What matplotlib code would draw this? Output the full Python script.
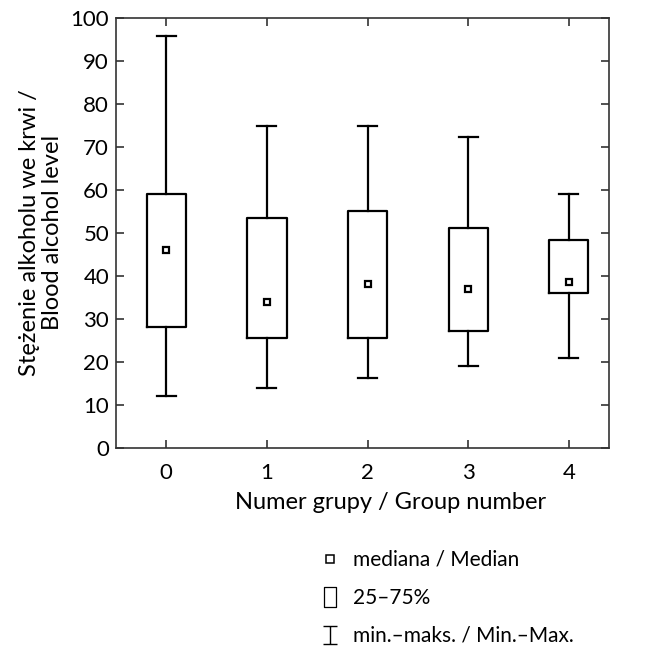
import matplotlib
matplotlib.use("Agg")
import matplotlib.pyplot as plt
from matplotlib.path import Path
from matplotlib.lines import Line2D

groups = [0, 1, 2, 3, 4]
mins = [12.1, 14.0, 16.3, 19.0, 21.0]
q1 = [28.1, 25.5, 25.5, 27.2, 36.0]
medians = [45.9, 34.0, 38.1, 37.0, 38.5]
q3 = [59.0, 53.4, 55.1, 51.0, 48.4]
maxs = [95.7, 74.8, 74.8, 72.3, 58.9]

plt.rcParams['font.family'] = ['Lato', 'DejaVu Sans']

fig = plt.figure(figsize=(6.51, 6.47), dpi=100)
ax = fig.add_axes([116/651, 1-448/647, (609-116)/651, (448-17.5)/647])

stats = []
for i in range(len(groups)):
    stats.append(dict(med=medians[i], q1=q1[i], q3=q3[i], whislo=mins[i], whishi=maxs[i], fliers=[]))

lw = 1.6
ax.bxp(stats, positions=groups, widths=0.39, showfliers=False,
       boxprops=dict(color='black', linewidth=lw),
       whiskerprops=dict(color='black', linewidth=lw),
       capprops=dict(color='black', linewidth=lw),
       medianprops=dict(linewidth=0), capwidths=0.19)
ax.plot(groups, medians, ls='none', marker='s', ms=5, mfc='white', mec='black', mew=1.6)

ax.set_xlim(-0.5, 4.4)
ax.set_ylim(0, 100)
ax.set_xticks(groups)
ax.set_xticklabels([str(g) for g in groups])
ax.set_yticks(range(0, 101, 10))
ax.tick_params(direction='in', top=True, right=True, length=6, width=1.2, labelsize=16, color='#333333')
ax.tick_params(axis='y', pad=5)
ax.tick_params(axis='x', pad=11)
for s in ax.spines.values():
    s.set_linewidth(1.2)
    s.set_color('#333333')

ax.set_xlabel('Numer grupy / Group number', fontsize=17, labelpad=8)
ax.xaxis.set_label_coords(0.556, -0.102)
ax.set_ylabel('Stężenie alkoholu we krwi /\nBlood alcohol level', fontsize=17, labelpad=5, linespacing=1.15)

ibeam = Path([(-0.8, -1), (0.8, -1), (0, -1), (0, 1), (-0.8, 1), (0.8, 1)],
             [Path.MOVETO, Path.LINETO, Path.MOVETO, Path.LINETO, Path.MOVETO, Path.LINETO])
rect = Path([(-0.65, -1), (0.65, -1), (0.65, 1), (-0.65, 1), (-0.65, -1)],
            [Path.MOVETO, Path.LINETO, Path.LINETO, Path.LINETO, Path.CLOSEPOLY])
handles = [
    Line2D([], [], ls='none', marker='s', ms=5.8, mfc='white', mec='black', mew=1.1),
    Line2D([], [], ls='none', marker=rect, ms=14, mfc='white', mec='black', mew=0.9),
    Line2D([], [], ls='none', marker=ibeam, ms=12.5, mfc='none', mec='black', mew=1.0),
]
labels = ['mediana / Median', '25–75%', 'min.–maks. / Min.–Max.']
leg = fig.legend(handles, labels, loc='upper left', bbox_to_anchor=(320/651, 1-550/647),
                 frameon=False, fontsize=15, handlelength=1.0, handletextpad=0.6,
                 labelspacing=0.86, borderpad=0, borderaxespad=0)

fig.savefig('out.png', dpi=100)
